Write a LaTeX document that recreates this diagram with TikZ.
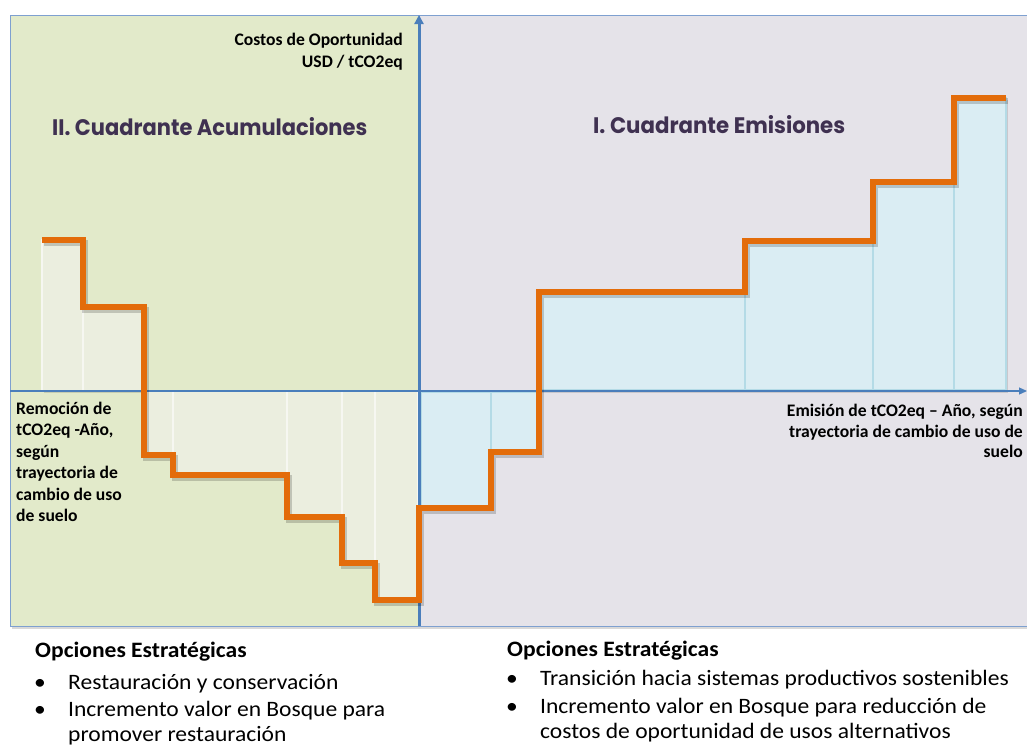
\documentclass[tikz,border=0pt]{standalone}
\usepackage{fontspec}
\setmainfont{Carlito}
\newfontfamily\optfont{Carlito}[FakeStretch=1.07]
\newfontfamily\geo{Poppins}
\usetikzlibrary{arrows.meta}
\definecolor{greenbg}{HTML}{E2EACA}
\definecolor{graybg}{HTML}{E5E3E9}
\definecolor{framec}{HTML}{7EA0D0}
\definecolor{axisc}{HTML}{4A7EBB}
\definecolor{orng}{HTML}{E36C0A}
\definecolor{ltbar}{HTML}{EBEEDF}
\definecolor{ltbarb}{HTML}{F6F7F1}
\definecolor{bluebar}{HTML}{DAEDF3}
\definecolor{bluebarb}{HTML}{B4DBE6}
\definecolor{titlec}{HTML}{3F3151}
\begin{document}
\begin{tikzpicture}[x=1pt,y=-1pt,
  quad/.style={draw=framec,line width=1pt},
  lbar/.style={fill=ltbar,draw=ltbarb,line width=1.5pt},
  bbar/.style={fill=bluebar,draw=bluebarb,line width=2pt},
  barshadow/.style={fill=black,opacity=0.12},
  curve/.style={draw=orng,line width=6pt,line join=miter},
  curveshadow/.style={draw=black,opacity=0.18,line width=6pt},
  axisline/.style={draw=axisc},
  lbl/.style={font=\fontsize{17.6}{21}\selectfont\bfseries,inner sep=0pt},
  qtitle/.style={text=titlec,inner sep=0pt},
  opt/.style={font=\optfont\fontsize{22}{26}\selectfont,inner sep=0pt},
  opth/.style={font=\optfont\fontsize{22}{26}\selectfont\bfseries,inner sep=0pt}]
\useasboundingbox (0,0) rectangle (1027,745);
\fill[white] (0,0) rectangle (1027,745);
% quadrants
\fill[black,opacity=0.15] (12,17) rectangle (1040,629);
\fill[greenbg] (10,15) rectangle (419,626);
\fill[graybg] (419,15) rectangle (1040,626);
\draw[quad] (10,15) rectangle (419,626);
\draw[quad] (419,15) rectangle (1040,626);
% bars: shadows
\foreach \a/\b/\c/\d in {42/240/83/391,83/307/143/391,539/292/745/391,745/241/873/391,873/182/954/391,954/98/1006/391}
  \fill[barshadow] (\a+2,\b+2) rectangle (\c+2,\d+2);
% left bars
\draw[lbar] (42,240) rectangle (83,391);
\draw[lbar] (83,307) rectangle (143,391);
\draw[lbar] (143,391) rectangle (173,455);
\draw[lbar] (173,391) rectangle (287,475);
\draw[lbar] (287,391) rectangle (342,517);
\draw[lbar] (342,391) rectangle (375,563);
\draw[lbar] (375,391) rectangle (418,600);
% right bars
\draw[bbar] (421,392) rectangle (491,506);
\draw[bbar] (491,392) rectangle (539,452);
\draw[bbar] (539,292) rectangle (745,390);
\draw[bbar] (745,241) rectangle (873,390);
\draw[bbar] (873,182) rectangle (954,390);
\draw[bbar] (954,98) rectangle (1006,390);
% axes
\coordinate (xs) at (10,391);
\coordinate (xe) at (1027,391);
\coordinate (ys) at (419,626);
\coordinate (ye) at (419,15);
\draw[axisline,line width=1.2pt,-{Triangle[length=8pt,width=7pt]}] (xs) -- (xe);
\draw[axisline,line width=3pt,-{Triangle[length=9pt,width=9pt]}] (ys) -- (ye);
% step curve
\def\steppath{(42,240) -- (83,240) -- (83,307) -- (144,307) -- (144,455) -- (173,455) -- (173,475) -- (287,475) -- (287,517) -- (342,517) -- (342,563) -- (375,563) -- (375,600) -- (419,600) -- (419,508) -- (491,508) -- (491,452) -- (539,452) -- (539,292) -- (745,292) -- (745,241) -- (873,241) -- (873,182) -- (954,182) -- (954,98) -- (1006,98)}
\draw[curveshadow,shift={(2,2.5)}] \steppath;
\draw[curve] \steppath;
% titles
\node[qtitle,anchor=base west] (t2) at (52,135) {\resizebox{315pt}{18pt}{\geo\bfseries II. Cuadrante Acumulaciones}};
\node[qtitle,anchor=base west] (t1) at (593,133) {\resizebox{252pt}{18pt}{\geo\bfseries I. Cuadrante Emisiones}};
% axis labels
\node[lbl,anchor=base east] (c1) at (403,45.5) {Costos de Oportunidad};
\node[lbl,anchor=base east] (c2) at (403,67) {USD / tCO2eq};
\foreach \t [count=\i] in {Remoción de,{tCO2eq -Año,},según,trayectoria de,cambio de uso,de suelo}
  \node[lbl,anchor=base west] (rem\i) at (16,{414+21.5*(\i-1)}) {\t};
\foreach \t [count=\i] in {{Emisión de tCO2eq – Año, según},trayectoria de cambio de uso de,suelo}
  \node[lbl,anchor=base east] (emi\i) at (1023,{416.5+20.5*(\i-1)}) {\t};
% bottom options
\node[opth,anchor=base west] (oh1) at (35,657) {Opciones Estratégicas};
\node[opt,anchor=base] (ob11) at (40,689) {•};
\node[opt,anchor=base west] (ol11) at (68,689) {Restauración y conservación};
\node[opt,anchor=base] (ob12) at (40,716) {•};
\node[opt,anchor=base west] (ol12) at (68,716) {Incremento valor en Bosque para};
\node[opt,anchor=base west] (ol13) at (68,741) {promover restauración};
\node[opth,anchor=base west] (oh2) at (507,656) {Opciones Estratégicas};
\node[opt,anchor=base] (ob21) at (512,685) {•};
\node[opt,anchor=base west] (ol21) at (540,685) {Transición hacia sistemas productivos sostenibles};
\node[opt,anchor=base] (ob22) at (512,713) {•};
\node[opt,anchor=base west] (ol22) at (540,713) {Incremento valor en Bosque para reducción de};
\node[opt,anchor=base west] (ol23) at (540,738) {costos de oportunidad de usos alternativos};
\end{tikzpicture}
\end{document}
